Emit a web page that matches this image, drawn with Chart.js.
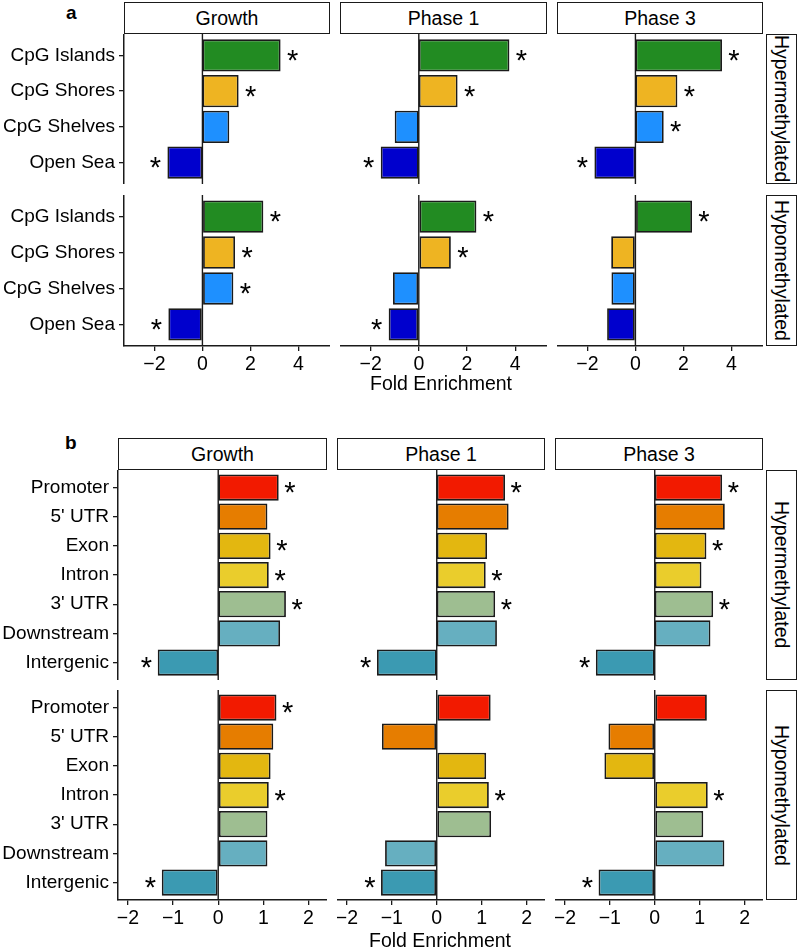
<!DOCTYPE html>
<html>
<head>
<meta charset="utf-8">
<script src="https://cdn.jsdelivr.net/npm/chart.js@4.4.1/dist/chart.umd.min.js"></script>
<style>
  body { margin: 0; background: #fff; font-family: "Liberation Sans", Arial, sans-serif; }
  #wrap { position: relative; width: 797px; height: 950px; overflow: hidden; }
  canvas { position: absolute; }
  .strip {
    position: absolute; box-sizing: border-box; border: 1.4px solid #1a1a1a; background: #fff;
    display: flex; align-items: center; justify-content: center; font-size: 19.5px; color: #000;
  }
  .vstrip { writing-mode: vertical-rl; }
  .tag { position: absolute; font-size: 19px; font-weight: bold; color: #000; }
  .axis-title { position: absolute; font-size: 19.5px; color: #000; transform: translate(-50%, -50%); white-space: nowrap; }
</style>
</head>
<body>
<div id="wrap"></div>
<script>
const phases = ["Growth", "Phase 1", "Phase 3"];
const statuses = ["Hypermethylated", "Hypomethylated"];

// panel a: CpG context
const cpgRegions = ["CpG Islands", "CpG Shores", "CpG Shelves", "Open Sea"];
const cpgColors = ["#228B22", "#EEB422", "#1E90FF", "#0000CD"];

const cpgHyperGrowth = [3.26, 1.51, 1.12, -1.46];
const cpgHyperPhase1 = [3.76, 1.61, -1.0, -1.58];
const cpgHyperPhase3 = [3.61, 1.75, 1.18, -1.71];
const cpgHypoGrowth = [2.54, 1.36, 1.29, -1.42];
const cpgHypoPhase1 = [2.39, 1.33, -1.07, -1.25];
const cpgHypoPhase3 = [2.36, -1.01, -1.0, -1.18];

const cpgHyperGrowthSig = [1, 1, 0, 1];
const cpgHyperPhase1Sig = [1, 1, 0, 1];
const cpgHyperPhase3Sig = [1, 1, 1, 1];
const cpgHypoGrowthSig = [1, 1, 1, 1];
const cpgHypoPhase1Sig = [1, 1, 0, 1];
const cpgHypoPhase3Sig = [1, 0, 0, 0];

const cpgTicks = [-2, 0, 2, 4];

// panel b: gene features
const features = ["Promoter", "5' UTR", "Exon", "Intron", "3' UTR", "Downstream", "Intergenic"];
const featureColors = ["#F21A00", "#E67D00", "#E3B710", "#EACD2C", "#9EBE91", "#66AFC0", "#3B9AB2"];

const featHyperGrowth = [1.34, 1.09, 1.16, 1.12, 1.50, 1.37, -1.34];
const featHyperPhase1 = [1.52, 1.60, 1.12, 1.09, 1.30, 1.34, -1.33];
const featHyperPhase3 = [1.50, 1.56, 1.15, 1.04, 1.30, 1.24, -1.31];
const featHypoGrowth = [1.29, 1.22, 1.16, 1.12, 1.09, 1.09, -1.25];
const featHypoPhase1 = [1.20, -1.22, 1.10, 1.16, 1.21, -1.15, -1.24];
const featHypoPhase3 = [1.16, -1.03, -1.12, 1.18, 1.08, 1.55, -1.25];

const featHyperGrowthSig = [1, 0, 1, 1, 1, 0, 1];
const featHyperPhase1Sig = [1, 0, 0, 1, 1, 0, 1];
const featHyperPhase3Sig = [1, 0, 1, 0, 1, 0, 1];
const featHypoGrowthSig = [1, 0, 0, 1, 0, 0, 1];
const featHypoPhase1Sig = [0, 0, 0, 1, 0, 0, 1];
const featHypoPhase3Sig = [0, 0, 0, 1, 0, 0, 1];

const featTicks = [-2, -1, 0, 1, 2];

const INK = "#000";
const LINE = "#1a1a1a";
const FONT = "'Liberation Sans', Arial, sans-serif";
Chart.defaults.font.family = FONT;
Chart.defaults.font.size = 19;
Chart.defaults.color = INK;

const wrap = document.getElementById("wrap");

const facetMarks = {
  id: "facetMarks",
  beforeDatasetsDraw(chart) {
    const { ctx, chartArea, scales } = chart;
    const x0 = scales.x.getPixelForValue(0);
    ctx.save();
    ctx.strokeStyle = LINE;
    ctx.lineWidth = 1.4;
    ctx.beginPath();
    ctx.moveTo(x0, chartArea.top);
    ctx.lineTo(x0, chartArea.bottom);
    ctx.stroke();
    ctx.restore();
  },
  afterDatasetsDraw(chart, args, opts) {
    const { ctx, scales } = chart;
    const values = chart.data.datasets[0].data;
    ctx.save();
    ctx.fillStyle = INK;
    ctx.font = opts.size + "px " + FONT;
    ctx.textAlign = "center";
    ctx.textBaseline = "alphabetic";
    values.forEach((d, i) => {
      if (!opts.sig[i]) return;
      const px = scales.x.getPixelForValue(d.x + Math.sign(d.x) * opts.gap);
      const py = scales.y.getPixelForValue(d.y);
      ctx.fillText("*", px, py + opts.size * 0.5);
    });
    ctx.restore();
  },
};

function addDiv(cls, text, left, top, width, height) {
  const el = document.createElement("div");
  el.className = cls;
  el.textContent = text;
  el.style.left = left + "px";
  el.style.top = top + "px";
  if (width != null) el.style.width = width + "px";
  if (height != null) el.style.height = height + "px";
  wrap.appendChild(el);
  return el;
}

function fmtTick(v) {
  return v < 0 ? "\u2212" + -v : String(v);
}

function drawFacet(panel, r, c) {
  const [left, right] = panel.cols[c];
  const [top, bottom] = panel.rows[r];
  const isLeft = c === 0;
  const isBottom = r === panel.rows.length - 1;
  const yW = isLeft ? left : 0;
  const xH = isBottom ? 36 : 0;

  const canvas = document.createElement("canvas");
  canvas.width = right - left + yW;
  canvas.height = bottom - top + xH;
  canvas.style.left = left - yW + "px";
  canvas.style.top = top + "px";
  wrap.appendChild(canvas);

  const labels = panel.labels;
  const values = panel.values[r][c];

  new Chart(canvas.getContext("2d"), {
    type: "bar",
    data: {
      datasets: [
        {
          data: values.map((v, i) => ({ x: v, y: i })),
          backgroundColor: panel.colors,
          borderColor: LINE,
          borderWidth: 1.8,
          borderSkipped: false,
          barPercentage: 0.9,
          categoryPercentage: 1,
        },
      ],
    },
    options: {
      indexAxis: "y",
      responsive: false,
      animation: false,
      events: [],
      layout: { padding: 0 },
      plugins: {
        legend: { display: false },
        tooltip: { enabled: false },
        facetMarks: { sig: panel.sig[r][c], gap: panel.starGap, size: 29 },
      },
      scales: {
        x: {
          type: "linear",
          display: isBottom,
          min: panel.xMin,
          max: panel.xMax,
          afterBuildTicks: (s) => { s.ticks = panel.ticks.map((v) => ({ value: v })); },
          ticks: { color: INK, padding: 2, maxRotation: 0, font: { size: 19.5 }, callback: fmtTick },
          grid: { drawOnChartArea: false, drawTicks: true, tickLength: 5, color: LINE, lineWidth: 1.3 },
          border: { display: true, color: LINE, width: 1.5 },
          afterFit: (s) => { s.height = xH; s.paddingLeft = 0; s.paddingRight = 0; },
        },
        y: {
          type: "linear",
          display: isLeft,
          reverse: true,
          offset: false,
          min: -0.6,
          max: labels.length - 0.4,
          afterBuildTicks: (s) => { s.ticks = labels.map((l, i) => ({ value: i })); },
          ticks: { color: INK, padding: 4, autoSkip: false, callback: (v) => labels[Math.round(v)] },
          grid: { offset: false, drawOnChartArea: false, drawTicks: true, tickLength: 5, color: LINE, lineWidth: 1.3 },
          border: { display: true, color: LINE, width: 1.5 },
          afterFit: (s) => { s.width = yW; s.paddingTop = 0; s.paddingBottom = 0; },
        },
      },
    },
    plugins: [facetMarks],
  });
}

function drawPanel(panel) {
  addDiv("tag", panel.tag, panel.tagPos[0], panel.tagPos[1]);
  panel.cols.forEach(([l, rgt], c) => {
    addDiv("strip", phases[c], l, panel.stripY[0], rgt - l, panel.stripY[1] - panel.stripY[0]);
  });
  panel.rows.forEach(([t, b], r) => {
    addDiv("strip vstrip", statuses[r], panel.rowStripX[0], t, panel.rowStripX[1] - panel.rowStripX[0], b - t);
    panel.cols.forEach((col, c) => drawFacet(panel, r, c));
  });
  addDiv("axis-title", "Fold Enrichment", panel.titlePos[0], panel.titlePos[1]);
}

drawPanel({
  tag: "a",
  tagPos: [66, 2],
  labels: cpgRegions,
  colors: cpgColors,
  values: [
    [cpgHyperGrowth, cpgHyperPhase1, cpgHyperPhase3],
    [cpgHypoGrowth, cpgHypoPhase1, cpgHypoPhase3],
  ],
  sig: [
    [cpgHyperGrowthSig, cpgHyperPhase1Sig, cpgHyperPhase3Sig],
    [cpgHypoGrowthSig, cpgHypoPhase1Sig, cpgHypoPhase3Sig],
  ],
  ticks: cpgTicks,
  xMin: -3.27,
  xMax: 5.32,
  starGap: 0.5,
  cols: [[124, 330], [340, 547], [557, 763]],
  rows: [[34, 184], [195, 346]],
  stripY: [2, 34],
  rowStripX: [766, 797],
  titlePos: [441, 383],
});

drawPanel({
  tag: "b",
  tagPos: [65, 432],
  labels: features,
  colors: featureColors,
  values: [
    [featHyperGrowth, featHyperPhase1, featHyperPhase3],
    [featHypoGrowth, featHypoPhase1, featHypoPhase3],
  ],
  sig: [
    [featHyperGrowthSig, featHyperPhase1Sig, featHyperPhase3Sig],
    [featHypoGrowthSig, featHypoPhase1Sig, featHypoPhase3Sig],
  ],
  ticks: featTicks,
  xMin: -2.22,
  xMax: 2.41,
  starGap: 0.25,
  cols: [[118, 327], [337, 545], [555, 763]],
  rows: [[470, 680], [690, 900]],
  stripY: [438, 470],
  rowStripX: [766, 797],
  titlePos: [440, 940],
});
</script>
</body>
</html>
